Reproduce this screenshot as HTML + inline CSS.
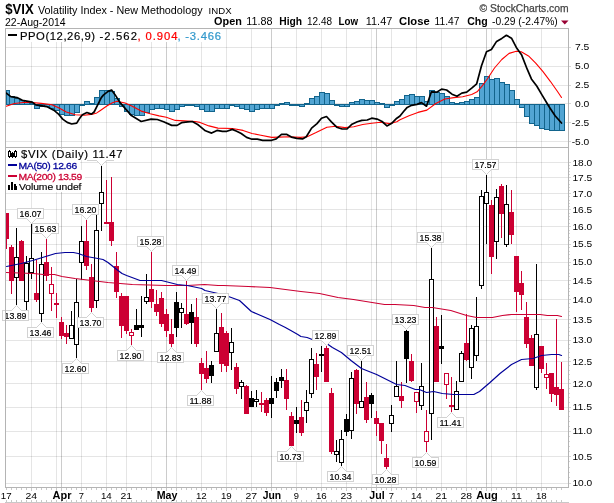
<!DOCTYPE html><html><head><meta charset="utf-8"><title>$VIX</title><style>html,body{margin:0;padding:0;background:#fff}svg{display:block}text{font-family:"Liberation Sans",sans-serif}.lb{stroke:#000;stroke-width:.2px}.lg{stroke:#000;stroke-width:.15px}.m{font-family:"Liberation Sans",sans-serif}</style></head><body>
<svg width="614" height="503" viewBox="0 0 614 503" style="will-change:transform">
<rect width="614" height="503" fill="#fff"/>
<g shape-rendering="crispEdges">
<rect x="31" y="28" width="1" height="459" fill="rgba(0,0,0,0.1)"/>
<rect x="56" y="28" width="1" height="459" fill="rgba(0,0,0,0.1)"/>
<rect x="81" y="28" width="1" height="459" fill="rgba(0,0,0,0.1)"/>
<rect x="106" y="28" width="1" height="459" fill="rgba(0,0,0,0.1)"/>
<rect x="126" y="28" width="1" height="459" fill="rgba(0,0,0,0.1)"/>
<rect x="151" y="28" width="1" height="459" fill="rgba(0,0,0,0.1)"/>
<rect x="176" y="28" width="1" height="459" fill="rgba(0,0,0,0.1)"/>
<rect x="201" y="28" width="1" height="459" fill="rgba(0,0,0,0.1)"/>
<rect x="226" y="28" width="1" height="459" fill="rgba(0,0,0,0.1)"/>
<rect x="251" y="28" width="1" height="459" fill="rgba(0,0,0,0.1)"/>
<rect x="296" y="28" width="1" height="459" fill="rgba(0,0,0,0.1)"/>
<rect x="321" y="28" width="1" height="459" fill="rgba(0,0,0,0.1)"/>
<rect x="346" y="28" width="1" height="459" fill="rgba(0,0,0,0.1)"/>
<rect x="371" y="28" width="1" height="459" fill="rgba(0,0,0,0.1)"/>
<rect x="391" y="28" width="1" height="459" fill="rgba(0,0,0,0.1)"/>
<rect x="416" y="28" width="1" height="459" fill="rgba(0,0,0,0.1)"/>
<rect x="441" y="28" width="1" height="459" fill="rgba(0,0,0,0.1)"/>
<rect x="466" y="28" width="1" height="459" fill="rgba(0,0,0,0.1)"/>
<rect x="491" y="28" width="1" height="459" fill="rgba(0,0,0,0.1)"/>
<rect x="516" y="28" width="1" height="459" fill="rgba(0,0,0,0.1)"/>
<rect x="541" y="28" width="1" height="459" fill="rgba(0,0,0,0.1)"/>
<rect x="61" y="28" width="1" height="459" fill="rgba(0,0,0,0.2)"/>
<rect x="166" y="28" width="1" height="459" fill="rgba(0,0,0,0.2)"/>
<rect x="271" y="28" width="1" height="459" fill="rgba(0,0,0,0.2)"/>
<rect x="376" y="28" width="1" height="459" fill="rgba(0,0,0,0.2)"/>
<rect x="486" y="28" width="1" height="459" fill="rgba(0,0,0,0.2)"/>
<rect x="5" y="47" width="564" height="1" fill="rgba(0,0,0,0.1)"/>
<rect x="5" y="66" width="564" height="1" fill="rgba(0,0,0,0.1)"/>
<rect x="5" y="85" width="564" height="1" fill="rgba(0,0,0,0.1)"/>
<rect x="5" y="103" width="564" height="1" fill="rgba(0,0,0,0.1)"/>
<rect x="5" y="122" width="564" height="1" fill="rgba(0,0,0,0.1)"/>
<rect x="5" y="141" width="564" height="1" fill="rgba(0,0,0,0.1)"/>
<rect x="5" y="162" width="564" height="1" fill="rgba(0,0,0,0.1)"/>
<rect x="5" y="177" width="564" height="1" fill="rgba(0,0,0,0.1)"/>
<rect x="5" y="193" width="564" height="1" fill="rgba(0,0,0,0.1)"/>
<rect x="5" y="209" width="564" height="1" fill="rgba(0,0,0,0.1)"/>
<rect x="5" y="226" width="564" height="1" fill="rgba(0,0,0,0.1)"/>
<rect x="5" y="244" width="564" height="1" fill="rgba(0,0,0,0.1)"/>
<rect x="5" y="262" width="564" height="1" fill="rgba(0,0,0,0.1)"/>
<rect x="5" y="280" width="564" height="1" fill="rgba(0,0,0,0.1)"/>
<rect x="5" y="299" width="564" height="1" fill="rgba(0,0,0,0.1)"/>
<rect x="5" y="319" width="564" height="1" fill="rgba(0,0,0,0.1)"/>
<rect x="5" y="340" width="564" height="1" fill="rgba(0,0,0,0.1)"/>
<rect x="5" y="361" width="564" height="1" fill="rgba(0,0,0,0.1)"/>
<rect x="5" y="383" width="564" height="1" fill="rgba(0,0,0,0.1)"/>
<rect x="5" y="407" width="564" height="1" fill="rgba(0,0,0,0.1)"/>
<rect x="5" y="431" width="564" height="1" fill="rgba(0,0,0,0.1)"/>
<rect x="5" y="456" width="564" height="1" fill="rgba(0,0,0,0.1)"/>
<rect x="5" y="483" width="564" height="1" fill="rgba(0,0,0,0.1)"/>
</g>
<g shape-rendering="crispEdges" fill="#52a5d3" stroke="#12648c" stroke-width="1">
<rect x="6.5" y="90.5" width="3" height="14"/>
<rect x="9.5" y="96.5" width="5" height="8"/>
<rect x="14.5" y="98.5" width="5" height="6"/>
<rect x="19.5" y="100.5" width="5" height="4"/>
<rect x="24.5" y="102.5" width="5" height="2"/>
<rect x="29.5" y="103.5" width="5" height="1"/>
<rect x="34.5" y="104.5" width="5" height="4"/>
<rect x="39.5" y="104.5" width="5" height="2"/>
<rect x="44.5" y="104.5" width="5" height="2"/>
<rect x="49.5" y="104.5" width="5" height="4"/>
<rect x="54.5" y="104.5" width="5" height="6"/>
<rect x="59.5" y="104.5" width="5" height="10"/>
<rect x="64.5" y="104.5" width="5" height="11"/>
<rect x="69.5" y="104.5" width="5" height="11"/>
<rect x="74.5" y="104.5" width="5" height="8"/>
<rect x="79.5" y="104.5" width="5" height="1"/>
<rect x="84.5" y="101.5" width="5" height="3"/>
<rect x="89.5" y="103.5" width="5" height="1"/>
<rect x="94.5" y="97.5" width="5" height="7"/>
<rect x="99.5" y="90.5" width="5" height="14"/>
<rect x="104.5" y="90.5" width="5" height="14"/>
<rect x="109.5" y="91.5" width="5" height="13"/>
<rect x="114.5" y="98.5" width="5" height="6"/>
<rect x="119.5" y="104.5" width="5" height="2"/>
<rect x="124.5" y="104.5" width="5" height="7"/>
<rect x="129.5" y="104.5" width="5" height="10"/>
<rect x="134.5" y="104.5" width="5" height="11"/>
<rect x="139.5" y="104.5" width="5" height="11"/>
<rect x="144.5" y="104.5" width="5" height="8"/>
<rect x="149.5" y="104.5" width="5" height="5"/>
<rect x="154.5" y="104.5" width="5" height="4"/>
<rect x="159.5" y="104.5" width="5" height="4"/>
<rect x="164.5" y="104.5" width="5" height="5"/>
<rect x="169.5" y="104.5" width="5" height="7"/>
<rect x="174.5" y="104.5" width="5" height="5"/>
<rect x="179.5" y="104.5" width="5" height="2"/>
<rect x="184.5" y="104.5" width="5" height="1"/>
<rect x="189.5" y="104.5" width="5" height="1"/>
<rect x="194.5" y="104.5" width="5" height="2"/>
<rect x="199.5" y="104.5" width="5" height="5"/>
<rect x="204.5" y="104.5" width="5" height="7"/>
<rect x="209.5" y="104.5" width="5" height="7"/>
<rect x="214.5" y="104.5" width="5" height="4"/>
<rect x="219.5" y="104.5" width="5" height="4"/>
<rect x="224.5" y="104.5" width="5" height="4"/>
<rect x="229.5" y="104.5" width="5" height="1"/>
<rect x="234.5" y="104.5" width="5" height="2"/>
<rect x="239.5" y="104.5" width="5" height="4"/>
<rect x="244.5" y="104.5" width="5" height="5"/>
<rect x="249.5" y="104.5" width="5" height="7"/>
<rect x="254.5" y="104.5" width="5" height="5"/>
<rect x="259.5" y="104.5" width="5" height="4"/>
<rect x="264.5" y="104.5" width="5" height="4"/>
<rect x="269.5" y="104.5" width="5" height="4"/>
<rect x="274.5" y="104.5" width="5" height="1"/>
<rect x="279.5" y="103.5" width="5" height="1"/>
<rect x="284.5" y="102.5" width="5" height="2"/>
<rect x="289.5" y="104.5" width="5" height="1"/>
<rect x="294.5" y="104.5" width="5" height="1"/>
<rect x="299.5" y="104.5" width="5" height="2"/>
<rect x="304.5" y="103.5" width="5" height="1"/>
<rect x="309.5" y="98.5" width="5" height="6"/>
<rect x="314.5" y="96.5" width="5" height="8"/>
<rect x="319.5" y="92.5" width="5" height="12"/>
<rect x="324.5" y="93.5" width="5" height="11"/>
<rect x="329.5" y="100.5" width="5" height="4"/>
<rect x="334.5" y="104.5" width="5" height="1"/>
<rect x="339.5" y="104.5" width="5" height="2"/>
<rect x="344.5" y="104.5" width="5" height="2"/>
<rect x="349.5" y="102.5" width="5" height="2"/>
<rect x="354.5" y="101.5" width="5" height="3"/>
<rect x="359.5" y="99.5" width="5" height="5"/>
<rect x="364.5" y="100.5" width="5" height="4"/>
<rect x="369.5" y="100.5" width="5" height="4"/>
<rect x="374.5" y="102.5" width="5" height="2"/>
<rect x="379.5" y="103.5" width="5" height="1"/>
<rect x="384.5" y="104.5" width="5" height="3"/>
<rect x="389.5" y="104.5" width="5" height="1"/>
<rect x="394.5" y="101.5" width="5" height="3"/>
<rect x="399.5" y="99.5" width="5" height="5"/>
<rect x="404.5" y="95.5" width="5" height="9"/>
<rect x="409.5" y="94.5" width="5" height="10"/>
<rect x="414.5" y="96.5" width="5" height="8"/>
<rect x="419.5" y="96.5" width="5" height="8"/>
<rect x="424.5" y="101.5" width="5" height="3"/>
<rect x="429.5" y="90.5" width="5" height="14"/>
<rect x="434.5" y="92.5" width="5" height="12"/>
<rect x="439.5" y="93.5" width="5" height="11"/>
<rect x="444.5" y="96.5" width="5" height="8"/>
<rect x="449.5" y="102.5" width="5" height="2"/>
<rect x="454.5" y="103.5" width="5" height="1"/>
<rect x="459.5" y="102.5" width="5" height="2"/>
<rect x="464.5" y="101.5" width="5" height="3"/>
<rect x="469.5" y="99.5" width="5" height="5"/>
<rect x="474.5" y="97.5" width="5" height="7"/>
<rect x="479.5" y="83.5" width="5" height="21"/>
<rect x="484.5" y="76.5" width="5" height="28"/>
<rect x="489.5" y="79.5" width="5" height="25"/>
<rect x="494.5" y="78.5" width="5" height="26"/>
<rect x="499.5" y="82.5" width="5" height="22"/>
<rect x="504.5" y="84.5" width="5" height="20"/>
<rect x="509.5" y="90.5" width="5" height="14"/>
<rect x="514.5" y="99.5" width="5" height="5"/>
<rect x="519.5" y="104.5" width="5" height="3"/>
<rect x="524.5" y="104.5" width="5" height="12"/>
<rect x="529.5" y="104.5" width="5" height="19"/>
<rect x="534.5" y="104.5" width="5" height="21"/>
<rect x="539.5" y="104.5" width="5" height="24"/>
<rect x="544.5" y="104.5" width="5" height="25"/>
<rect x="549.5" y="104.5" width="5" height="26"/>
<rect x="554.5" y="104.5" width="5" height="26"/>
<rect x="559.5" y="104.5" width="5" height="26"/>
</g>
<polyline points="6.3,106.2 14.3,103.5 23.3,102.5 32.3,102.5 41.2,103.4 52.0,104.8 59.1,108.0 66.3,112.0 75.3,114.7 84.2,115.2 93.2,114.1 96.8,112.9 100.0,110.7 107.2,105.7 112.5,102.7 117.0,101.2 125.1,103.0 132.3,106.2 141.2,111.1 150.2,113.8 159.1,115.9 166.3,117.3 175.3,120.4 184.2,120.9 195.0,121.5 200.0,122.4 209.0,125.9 217.9,128.1 232.3,128.5 243.0,130.4 252.0,133.5 260.9,135.3 271.7,137.4 278.9,137.1 289.6,136.7 300.4,137.4 307.2,136.7 316.1,132.6 326.9,127.2 335.8,126.3 344.8,127.6 353.8,126.7 362.7,124.5 371.7,123.3 380.6,122.2 389.6,123.6 396.8,121.8 400.0,119.8 409.0,115.7 417.9,112.4 426.9,110.1 435.8,103.5 444.8,99.0 453.8,97.6 462.7,96.8 471.7,94.5 477.1,91.8 482.4,85.6 487.3,79.0 494.5,68.0 501.8,59.5 509.1,53.4 516.3,51.3 521.2,51.7 528.5,55.9 535.7,63.1 543.0,71.6 550.3,81.3 557.5,91.5 561.5,97.5" fill="none" stroke="#ff0000" stroke-width="1.1" stroke-linejoin="round" stroke-linecap="round"/>
<polyline points="6.3,93.2 10.8,96.7 17.0,97.6 22.4,100.3 32.3,102.1 35.8,104.8 46.6,106.6 53.8,110.2 58.2,113.8 62.7,119.1 67.2,122.4 71.7,124.0 76.7,123.1 79.7,118.2 82.4,114.7 86.9,112.5 91.4,114.1 94.1,112.0 97.7,104.8 101.3,97.6 103.6,94.9 108.1,91.4 111.6,90.1 115.2,94.9 119.7,102.1 125.1,108.4 131.4,115.6 141.2,121.5 151.1,119.1 157.3,119.5 163.6,121.8 171.7,125.4 177.1,125.4 181.5,122.7 187.8,121.8 192.3,121.5 197.7,124.5 200.0,126.3 205.4,130.8 211.6,133.1 217.0,130.4 222.4,131.3 226.9,131.3 232.3,129.4 236.7,131.3 241.2,133.5 246.6,137.4 252.0,139.2 257.3,139.2 262.7,140.3 271.7,140.3 276.2,138.9 281.5,134.4 286.9,134.4 291.4,137.1 296.8,138.3 302.5,138.9 306.3,136.7 311.6,128.1 317.0,123.6 321.5,118.2 326.5,116.5 331.4,121.8 336.7,127.2 342.1,129.0 347.0,129.0 352.0,124.2 357.3,121.8 361.8,120.4 367.2,120.0 371.7,118.2 377.1,119.1 382.1,121.5 386.9,125.9 391.4,123.6 396.8,118.2 400.0,116.0 403.6,111.5 407.2,107.4 411.6,105.3 417.0,104.4 421.5,102.6 426.5,106.2 431.4,91.8 436.7,92.2 441.6,89.1 446.6,90.0 452.0,94.2 457.0,96.3 461.8,93.1 466.7,92.2 471.7,88.2 476.7,83.8 481.5,65.8 486.5,51.7 491.4,49.5 496.6,41.4 501.8,38.4 506.4,35.3 511.5,38.2 516.3,47.4 521.7,55.1 527.2,69.2 531.4,78.9 536.9,86.2 541.8,94.6 549.1,106.8 555.1,115.7 561.5,123.0" fill="none" stroke="#000000" stroke-width="1.7" stroke-linejoin="round" stroke-linecap="round"/>
<g shape-rendering="crispEdges">
<rect x="6" y="213" width="1" height="36" fill="#cc0033"/>
<rect x="6" y="213" width="3" height="26" fill="#cc0033"/>
<rect x="11" y="245" width="1" height="49" fill="#cc0033"/>
<rect x="9" y="247" width="5" height="34" fill="#cc0033"/>
<rect x="16" y="228" width="1" height="77" fill="#000000"/>
<rect x="14" y="257" width="5" height="21" fill="#000000"/>
<rect x="15" y="258" width="3" height="19" fill="#fff"/>
<rect x="21" y="240" width="1" height="41" fill="#cc0033"/>
<rect x="19" y="241" width="5" height="40" fill="#cc0033"/>
<rect x="26" y="256" width="1" height="54" fill="#000000"/>
<rect x="24" y="263" width="5" height="39" fill="#000000"/>
<rect x="25" y="264" width="3" height="37" fill="#fff"/>
<rect x="31" y="224" width="1" height="55" fill="#000000"/>
<rect x="29" y="258" width="5" height="15" fill="#000000"/>
<rect x="30" y="259" width="3" height="13" fill="#fff"/>
<rect x="36" y="260" width="1" height="42" fill="#cc0033"/>
<rect x="34" y="293" width="5" height="7" fill="#cc0033"/>
<rect x="41" y="252" width="1" height="70" fill="#000000"/>
<rect x="39" y="264" width="5" height="50" fill="#000000"/>
<rect x="40" y="265" width="3" height="48" fill="#fff"/>
<rect x="46" y="239" width="1" height="42" fill="#cc0033"/>
<rect x="44" y="262" width="5" height="14" fill="#cc0033"/>
<rect x="51" y="267" width="1" height="44" fill="#cc0033"/>
<rect x="49" y="284" width="5" height="10" fill="#cc0033"/>
<rect x="50" y="285" width="3" height="8" fill="#fff"/>
<rect x="56" y="293" width="1" height="25" fill="#cc0033"/>
<rect x="54" y="303" width="5" height="2" fill="#cc0033"/>
<rect x="61" y="317" width="1" height="22" fill="#cc0033"/>
<rect x="59" y="322" width="5" height="14" fill="#cc0033"/>
<rect x="66" y="325" width="1" height="19" fill="#cc0033"/>
<rect x="64" y="333" width="5" height="4" fill="#cc0033"/>
<rect x="71" y="311" width="1" height="28" fill="#000000"/>
<rect x="69" y="325" width="5" height="14" fill="#000000"/>
<rect x="70" y="326" width="3" height="12" fill="#fff"/>
<rect x="76" y="279" width="1" height="79" fill="#000000"/>
<rect x="74" y="302" width="5" height="43" fill="#000000"/>
<rect x="75" y="303" width="3" height="41" fill="#fff"/>
<rect x="81" y="226" width="1" height="54" fill="#000000"/>
<rect x="79" y="241" width="5" height="22" fill="#000000"/>
<rect x="80" y="242" width="3" height="20" fill="#fff"/>
<rect x="86" y="220" width="1" height="50" fill="#cc0033"/>
<rect x="84" y="241" width="5" height="25" fill="#cc0033"/>
<rect x="91" y="264" width="1" height="48" fill="#cc0033"/>
<rect x="89" y="277" width="5" height="31" fill="#cc0033"/>
<rect x="96" y="215" width="1" height="93" fill="#000000"/>
<rect x="94" y="230" width="5" height="71" fill="#000000"/>
<rect x="95" y="231" width="3" height="69" fill="#fff"/>
<rect x="101" y="166" width="1" height="65" fill="#000000"/>
<rect x="99" y="192" width="5" height="12" fill="#000000"/>
<rect x="100" y="193" width="3" height="10" fill="#fff"/>
<rect x="106" y="180" width="1" height="44" fill="#cc0033"/>
<rect x="104" y="222" width="5" height="2" fill="#cc0033"/>
<rect x="111" y="177" width="1" height="69" fill="#cc0033"/>
<rect x="109" y="222" width="5" height="19" fill="#cc0033"/>
<rect x="116" y="252" width="1" height="46" fill="#cc0033"/>
<rect x="114" y="266" width="5" height="26" fill="#cc0033"/>
<rect x="121" y="293" width="1" height="45" fill="#cc0033"/>
<rect x="119" y="296" width="5" height="30" fill="#cc0033"/>
<rect x="126" y="296" width="1" height="38" fill="#cc0033"/>
<rect x="124" y="296" width="5" height="35" fill="#cc0033"/>
<rect x="131" y="329" width="1" height="16" fill="#cc0033"/>
<rect x="129" y="332" width="5" height="4" fill="#cc0033"/>
<rect x="130" y="333" width="3" height="2" fill="#fff"/>
<rect x="136" y="309" width="1" height="21" fill="#000000"/>
<rect x="134" y="325" width="5" height="5" fill="#000000"/>
<rect x="141" y="296" width="1" height="41" fill="#000000"/>
<rect x="139" y="325" width="5" height="3" fill="#000000"/>
<rect x="146" y="274" width="1" height="30" fill="#000000"/>
<rect x="144" y="297" width="5" height="5" fill="#000000"/>
<rect x="145" y="298" width="3" height="3" fill="#fff"/>
<rect x="151" y="252" width="1" height="56" fill="#cc0033"/>
<rect x="149" y="289" width="5" height="13" fill="#cc0033"/>
<rect x="156" y="290" width="1" height="26" fill="#cc0033"/>
<rect x="154" y="304" width="5" height="8" fill="#cc0033"/>
<rect x="161" y="292" width="1" height="35" fill="#cc0033"/>
<rect x="159" y="298" width="5" height="26" fill="#cc0033"/>
<rect x="166" y="309" width="1" height="28" fill="#cc0033"/>
<rect x="164" y="314" width="5" height="17" fill="#cc0033"/>
<rect x="171" y="319" width="1" height="28" fill="#cc0033"/>
<rect x="169" y="334" width="5" height="10" fill="#cc0033"/>
<rect x="176" y="292" width="1" height="45" fill="#000000"/>
<rect x="174" y="302" width="5" height="26" fill="#000000"/>
<rect x="181" y="303" width="1" height="25" fill="#000000"/>
<rect x="179" y="308" width="5" height="5" fill="#000000"/>
<rect x="180" y="309" width="3" height="3" fill="#fff"/>
<rect x="186" y="281" width="1" height="44" fill="#cc0033"/>
<rect x="184" y="314" width="5" height="10" fill="#cc0033"/>
<rect x="191" y="304" width="1" height="40" fill="#000000"/>
<rect x="189" y="312" width="5" height="11" fill="#000000"/>
<rect x="196" y="298" width="1" height="49" fill="#cc0033"/>
<rect x="194" y="317" width="5" height="27" fill="#cc0033"/>
<rect x="201" y="358" width="1" height="32" fill="#cc0033"/>
<rect x="199" y="363" width="5" height="11" fill="#cc0033"/>
<rect x="206" y="351" width="1" height="32" fill="#cc0033"/>
<rect x="204" y="368" width="5" height="11" fill="#cc0033"/>
<rect x="211" y="361" width="1" height="22" fill="#000000"/>
<rect x="209" y="365" width="5" height="11" fill="#000000"/>
<rect x="216" y="309" width="1" height="43" fill="#000000"/>
<rect x="214" y="333" width="5" height="19" fill="#000000"/>
<rect x="215" y="334" width="3" height="17" fill="#fff"/>
<rect x="221" y="313" width="1" height="59" fill="#cc0033"/>
<rect x="219" y="327" width="5" height="37" fill="#cc0033"/>
<rect x="226" y="331" width="1" height="41" fill="#cc0033"/>
<rect x="224" y="333" width="5" height="33" fill="#cc0033"/>
<rect x="231" y="328" width="1" height="42" fill="#000000"/>
<rect x="229" y="342" width="5" height="11" fill="#000000"/>
<rect x="230" y="343" width="3" height="9" fill="#fff"/>
<rect x="236" y="363" width="1" height="31" fill="#cc0033"/>
<rect x="234" y="367" width="5" height="22" fill="#cc0033"/>
<rect x="241" y="380" width="1" height="19" fill="#000000"/>
<rect x="239" y="382" width="5" height="5" fill="#000000"/>
<rect x="240" y="383" width="3" height="3" fill="#fff"/>
<rect x="246" y="385" width="1" height="29" fill="#cc0033"/>
<rect x="244" y="386" width="5" height="28" fill="#cc0033"/>
<rect x="251" y="391" width="1" height="16" fill="#000000"/>
<rect x="249" y="398" width="5" height="9" fill="#000000"/>
<rect x="256" y="390" width="1" height="17" fill="#000000"/>
<rect x="254" y="399" width="5" height="3" fill="#000000"/>
<rect x="255" y="400" width="3" height="1" fill="#fff"/>
<rect x="261" y="392" width="1" height="20" fill="#cc0033"/>
<rect x="259" y="403" width="5" height="2" fill="#cc0033"/>
<rect x="266" y="398" width="1" height="18" fill="#cc0033"/>
<rect x="264" y="400" width="5" height="13" fill="#cc0033"/>
<rect x="271" y="376" width="1" height="42" fill="#000000"/>
<rect x="269" y="398" width="5" height="6" fill="#000000"/>
<rect x="276" y="378" width="1" height="20" fill="#000000"/>
<rect x="274" y="382" width="5" height="9" fill="#000000"/>
<rect x="281" y="369" width="1" height="19" fill="#000000"/>
<rect x="279" y="377" width="5" height="4" fill="#000000"/>
<rect x="286" y="369" width="1" height="41" fill="#cc0033"/>
<rect x="284" y="380" width="5" height="19" fill="#cc0033"/>
<rect x="291" y="412" width="1" height="34" fill="#cc0033"/>
<rect x="289" y="416" width="5" height="30" fill="#cc0033"/>
<rect x="296" y="407" width="1" height="26" fill="#000000"/>
<rect x="294" y="420" width="5" height="4" fill="#000000"/>
<rect x="301" y="400" width="1" height="36" fill="#cc0033"/>
<rect x="299" y="417" width="5" height="16" fill="#cc0033"/>
<rect x="306" y="390" width="1" height="33" fill="#000000"/>
<rect x="304" y="402" width="5" height="9" fill="#000000"/>
<rect x="305" y="403" width="3" height="7" fill="#fff"/>
<rect x="311" y="348" width="1" height="50" fill="#000000"/>
<rect x="309" y="359" width="5" height="35" fill="#000000"/>
<rect x="310" y="360" width="3" height="33" fill="#fff"/>
<rect x="316" y="353" width="1" height="37" fill="#cc0033"/>
<rect x="314" y="364" width="5" height="13" fill="#cc0033"/>
<rect x="321" y="346" width="1" height="26" fill="#000000"/>
<rect x="319" y="354" width="5" height="2" fill="#000000"/>
<rect x="326" y="346" width="1" height="36" fill="#cc0033"/>
<rect x="324" y="348" width="5" height="34" fill="#cc0033"/>
<rect x="331" y="388" width="1" height="66" fill="#cc0033"/>
<rect x="329" y="393" width="5" height="59" fill="#cc0033"/>
<rect x="336" y="440" width="1" height="22" fill="#000000"/>
<rect x="334" y="451" width="5" height="4" fill="#000000"/>
<rect x="335" y="452" width="3" height="2" fill="#fff"/>
<rect x="341" y="430" width="1" height="36" fill="#000000"/>
<rect x="339" y="439" width="5" height="24" fill="#000000"/>
<rect x="340" y="440" width="3" height="22" fill="#fff"/>
<rect x="346" y="414" width="1" height="22" fill="#000000"/>
<rect x="344" y="419" width="5" height="13" fill="#000000"/>
<rect x="351" y="372" width="1" height="67" fill="#000000"/>
<rect x="349" y="378" width="5" height="53" fill="#000000"/>
<rect x="350" y="379" width="3" height="51" fill="#fff"/>
<rect x="356" y="369" width="1" height="45" fill="#cc0033"/>
<rect x="354" y="370" width="5" height="34" fill="#cc0033"/>
<rect x="361" y="361" width="1" height="47" fill="#000000"/>
<rect x="359" y="401" width="5" height="7" fill="#000000"/>
<rect x="360" y="402" width="3" height="5" fill="#fff"/>
<rect x="366" y="382" width="1" height="41" fill="#cc0033"/>
<rect x="364" y="397" width="5" height="23" fill="#cc0033"/>
<rect x="371" y="393" width="1" height="25" fill="#000000"/>
<rect x="369" y="395" width="5" height="9" fill="#000000"/>
<rect x="376" y="411" width="1" height="25" fill="#cc0033"/>
<rect x="374" y="418" width="5" height="6" fill="#cc0033"/>
<rect x="381" y="423" width="1" height="31" fill="#cc0033"/>
<rect x="379" y="423" width="5" height="18" fill="#cc0033"/>
<rect x="386" y="444" width="1" height="25" fill="#cc0033"/>
<rect x="384" y="458" width="5" height="9" fill="#cc0033"/>
<rect x="391" y="405" width="1" height="27" fill="#000000"/>
<rect x="389" y="415" width="5" height="9" fill="#000000"/>
<rect x="390" y="416" width="3" height="7" fill="#fff"/>
<rect x="396" y="361" width="1" height="36" fill="#000000"/>
<rect x="394" y="386" width="5" height="11" fill="#000000"/>
<rect x="395" y="387" width="3" height="9" fill="#fff"/>
<rect x="401" y="382" width="1" height="26" fill="#cc0033"/>
<rect x="399" y="396" width="5" height="5" fill="#cc0033"/>
<rect x="406" y="330" width="1" height="53" fill="#000000"/>
<rect x="404" y="331" width="5" height="28" fill="#000000"/>
<rect x="411" y="354" width="1" height="28" fill="#cc0033"/>
<rect x="409" y="361" width="5" height="20" fill="#cc0033"/>
<rect x="416" y="392" width="1" height="21" fill="#cc0033"/>
<rect x="414" y="392" width="5" height="10" fill="#cc0033"/>
<rect x="415" y="393" width="3" height="8" fill="#fff"/>
<rect x="421" y="363" width="1" height="47" fill="#000000"/>
<rect x="419" y="386" width="5" height="20" fill="#000000"/>
<rect x="420" y="387" width="3" height="18" fill="#fff"/>
<rect x="426" y="410" width="1" height="42" fill="#cc0033"/>
<rect x="424" y="431" width="5" height="11" fill="#cc0033"/>
<rect x="425" y="432" width="3" height="9" fill="#fff"/>
<rect x="431" y="248" width="1" height="192" fill="#000000"/>
<rect x="429" y="279" width="5" height="135" fill="#000000"/>
<rect x="430" y="280" width="3" height="133" fill="#fff"/>
<rect x="436" y="317" width="1" height="65" fill="#cc0033"/>
<rect x="434" y="326" width="5" height="56" fill="#cc0033"/>
<rect x="441" y="315" width="1" height="49" fill="#000000"/>
<rect x="439" y="346" width="5" height="3" fill="#000000"/>
<rect x="446" y="373" width="1" height="26" fill="#cc0033"/>
<rect x="444" y="373" width="5" height="12" fill="#cc0033"/>
<rect x="445" y="374" width="3" height="10" fill="#fff"/>
<rect x="451" y="377" width="1" height="35" fill="#cc0033"/>
<rect x="449" y="405" width="5" height="2" fill="#cc0033"/>
<rect x="456" y="381" width="1" height="29" fill="#000000"/>
<rect x="454" y="391" width="5" height="19" fill="#000000"/>
<rect x="455" y="392" width="3" height="17" fill="#fff"/>
<rect x="461" y="351" width="1" height="31" fill="#000000"/>
<rect x="459" y="353" width="5" height="29" fill="#000000"/>
<rect x="460" y="354" width="3" height="27" fill="#fff"/>
<rect x="466" y="314" width="1" height="47" fill="#cc0033"/>
<rect x="464" y="343" width="5" height="17" fill="#cc0033"/>
<rect x="471" y="325" width="1" height="54" fill="#000000"/>
<rect x="469" y="328" width="5" height="40" fill="#000000"/>
<rect x="470" y="329" width="3" height="38" fill="#fff"/>
<rect x="476" y="297" width="1" height="64" fill="#000000"/>
<rect x="474" y="326" width="5" height="30" fill="#000000"/>
<rect x="475" y="327" width="3" height="28" fill="#fff"/>
<rect x="481" y="190" width="1" height="99" fill="#000000"/>
<rect x="479" y="196" width="5" height="90" fill="#000000"/>
<rect x="480" y="197" width="3" height="88" fill="#fff"/>
<rect x="486" y="175" width="1" height="69" fill="#000000"/>
<rect x="484" y="192" width="5" height="12" fill="#000000"/>
<rect x="485" y="193" width="3" height="10" fill="#fff"/>
<rect x="491" y="200" width="1" height="74" fill="#cc0033"/>
<rect x="489" y="205" width="5" height="52" fill="#cc0033"/>
<rect x="496" y="189" width="1" height="70" fill="#000000"/>
<rect x="494" y="197" width="5" height="45" fill="#000000"/>
<rect x="495" y="198" width="3" height="43" fill="#fff"/>
<rect x="501" y="184" width="1" height="54" fill="#cc0033"/>
<rect x="499" y="186" width="5" height="28" fill="#cc0033"/>
<rect x="506" y="185" width="1" height="62" fill="#000000"/>
<rect x="504" y="204" width="5" height="41" fill="#000000"/>
<rect x="505" y="205" width="3" height="39" fill="#fff"/>
<rect x="511" y="190" width="1" height="54" fill="#cc0033"/>
<rect x="509" y="212" width="5" height="23" fill="#cc0033"/>
<rect x="516" y="256" width="1" height="56" fill="#cc0033"/>
<rect x="514" y="256" width="5" height="36" fill="#cc0033"/>
<rect x="521" y="271" width="1" height="39" fill="#cc0033"/>
<rect x="519" y="283" width="5" height="12" fill="#cc0033"/>
<rect x="526" y="302" width="1" height="46" fill="#cc0033"/>
<rect x="524" y="317" width="5" height="27" fill="#cc0033"/>
<rect x="531" y="335" width="1" height="31" fill="#cc0033"/>
<rect x="529" y="338" width="5" height="28" fill="#cc0033"/>
<rect x="536" y="264" width="1" height="126" fill="#000000"/>
<rect x="534" y="334" width="5" height="54" fill="#000000"/>
<rect x="535" y="335" width="3" height="52" fill="#fff"/>
<rect x="541" y="346" width="1" height="27" fill="#cc0033"/>
<rect x="539" y="346" width="5" height="23" fill="#cc0033"/>
<rect x="546" y="363" width="1" height="26" fill="#cc0033"/>
<rect x="544" y="374" width="5" height="4" fill="#cc0033"/>
<rect x="545" y="375" width="3" height="2" fill="#fff"/>
<rect x="551" y="373" width="1" height="29" fill="#cc0033"/>
<rect x="549" y="373" width="5" height="21" fill="#cc0033"/>
<rect x="556" y="319" width="1" height="87" fill="#cc0033"/>
<rect x="554" y="387" width="5" height="8" fill="#cc0033"/>
<rect x="561" y="362" width="1" height="48" fill="#cc0033"/>
<rect x="559" y="389" width="5" height="21" fill="#cc0033"/>
</g>
<polyline points="6.0,272.5 33.3,273.5 43.4,274.5 54.5,274.5 62.0,276.5 75.0,278.5 108.0,282.5 132.3,284.5 165.8,285.5 187.3,285.5 204.5,284.5 218.0,285.5 223.6,285.5 248.3,286.5 270.0,287.5 285.4,289.5 300.9,291.5 319.5,293.5 338.0,297.5 353.5,299.5 372.1,302.5 384.5,304.5 395.0,304.5 413.7,305.5 425.0,307.5 432.3,307.5 450.8,310.5 466.6,315.5 476.6,317.5 492.4,317.5 502.4,315.5 511.5,314.5 540.2,314.5 547.3,315.5 557.4,315.5 561.5,316.5" fill="none" stroke="#cc0033" stroke-width="1.1" stroke-linejoin="round" stroke-linecap="round"/>
<polyline points="6.5,266.5 21.2,263.5 32.6,260.5 45.7,256.5 55.5,253.5 65.0,252.5 73.4,252.5 78.3,253.5 86.5,256.5 97.9,258.5 103.0,259.5 108.0,262.5 113.0,266.5 118.0,270.5 122.0,273.5 126.6,275.5 132.0,277.5 140.0,280.5 161.5,280.5 177.3,284.5 187.3,285.5 201.7,288.5 205.0,290.5 218.0,293.5 228.5,296.5 239.5,300.5 251.4,311.5 270.0,319.5 279.4,324.5 285.4,327.5 290.8,330.5 297.8,334.5 300.9,336.5 307.1,337.5 312.3,339.5 322.4,340.5 332.4,347.5 341.4,352.5 351.0,360.5 361.5,368.5 376.6,374.5 396.6,384.5 405.0,385.5 415.3,389.5 419.3,389.5 426.5,392.5 433.7,391.5 442.3,393.5 453.7,394.5 473.8,394.5 479.5,391.5 490.0,382.5 500.0,373.5 511.5,364.5 521.5,359.5 533.0,358.5 541.6,355.5 551.6,354.5 558.8,354.5 561.5,355.5" fill="none" stroke="#000099" stroke-width="1.2" stroke-linejoin="round" stroke-linecap="round"/>
<rect x="17.5" y="208.5" width="26" height="10" fill="#fff" stroke="#d2d2d2" stroke-width="1"/>
<path d="M26.5,218.5 L31.5,223.5 L36.5,218.5Z" fill="#fff" stroke="none"/>
<rect x="27" y="218" width="9" height="1" fill="#fff"/>
<path d="M26.5,218.5 L31.5,223.5 L36.5,218.5" fill="none" stroke="#d2d2d2" stroke-width="1"/>
<text x="30.5" y="217" font-size="9.6" text-anchor="middle" textLength="22" lengthAdjust="spacingAndGlyphs" fill="#000" class="lb">16.07</text>
<rect x="32.5" y="223.5" width="26" height="10" fill="#fff" stroke="#d2d2d2" stroke-width="1"/>
<path d="M41.5,233.5 L46.5,238.5 L51.5,233.5Z" fill="#fff" stroke="none"/>
<rect x="42" y="233" width="9" height="1" fill="#fff"/>
<path d="M41.5,233.5 L46.5,238.5 L51.5,233.5" fill="none" stroke="#d2d2d2" stroke-width="1"/>
<text x="45.5" y="232" font-size="9.6" text-anchor="middle" textLength="22" lengthAdjust="spacingAndGlyphs" fill="#000" class="lb">15.63</text>
<rect x="2.5" y="310.5" width="26" height="10" fill="#fff" stroke="#d2d2d2" stroke-width="1"/>
<path d="M11.5,310.5 L16.5,305.5 L21.5,310.5Z" fill="#fff" stroke="none"/>
<rect x="12" y="310" width="9" height="1" fill="#fff"/>
<path d="M11.5,310.5 L16.5,305.5 L21.5,310.5" fill="none" stroke="#d2d2d2" stroke-width="1"/>
<text x="15.5" y="319" font-size="9.6" text-anchor="middle" textLength="22" lengthAdjust="spacingAndGlyphs" fill="#000" class="lb">13.89</text>
<rect x="27.5" y="327.5" width="26" height="10" fill="#fff" stroke="#d2d2d2" stroke-width="1"/>
<path d="M36.5,327.5 L41.5,322.5 L46.5,327.5Z" fill="#fff" stroke="none"/>
<rect x="37" y="327" width="9" height="1" fill="#fff"/>
<path d="M36.5,327.5 L41.5,322.5 L46.5,327.5" fill="none" stroke="#d2d2d2" stroke-width="1"/>
<text x="40.5" y="336" font-size="9.6" text-anchor="middle" textLength="22" lengthAdjust="spacingAndGlyphs" fill="#000" class="lb">13.46</text>
<rect x="62.5" y="363.5" width="26" height="10" fill="#fff" stroke="#d2d2d2" stroke-width="1"/>
<path d="M71.5,363.5 L76.5,358.5 L81.5,363.5Z" fill="#fff" stroke="none"/>
<rect x="72" y="363" width="9" height="1" fill="#fff"/>
<path d="M71.5,363.5 L76.5,358.5 L81.5,363.5" fill="none" stroke="#d2d2d2" stroke-width="1"/>
<text x="75.5" y="372" font-size="9.6" text-anchor="middle" textLength="22" lengthAdjust="spacingAndGlyphs" fill="#000" class="lb">12.60</text>
<rect x="72.5" y="204.5" width="26" height="10" fill="#fff" stroke="#d2d2d2" stroke-width="1"/>
<path d="M81.5,214.5 L86.5,219.5 L91.5,214.5Z" fill="#fff" stroke="none"/>
<rect x="82" y="214" width="9" height="1" fill="#fff"/>
<path d="M81.5,214.5 L86.5,219.5 L91.5,214.5" fill="none" stroke="#d2d2d2" stroke-width="1"/>
<text x="85.5" y="213" font-size="9.6" text-anchor="middle" textLength="22" lengthAdjust="spacingAndGlyphs" fill="#000" class="lb">16.20</text>
<rect x="77.5" y="317.5" width="26" height="10" fill="#fff" stroke="#d2d2d2" stroke-width="1"/>
<path d="M86.5,317.5 L91.5,312.5 L96.5,317.5Z" fill="#fff" stroke="none"/>
<rect x="87" y="317" width="9" height="1" fill="#fff"/>
<path d="M86.5,317.5 L91.5,312.5 L96.5,317.5" fill="none" stroke="#d2d2d2" stroke-width="1"/>
<text x="90.5" y="326" font-size="9.6" text-anchor="middle" textLength="22" lengthAdjust="spacingAndGlyphs" fill="#000" class="lb">13.70</text>
<rect x="87.5" y="150.5" width="26" height="10" fill="#fff" stroke="#d2d2d2" stroke-width="1"/>
<path d="M96.5,160.5 L101.5,165.5 L106.5,160.5Z" fill="#fff" stroke="none"/>
<rect x="97" y="160" width="9" height="1" fill="#fff"/>
<path d="M96.5,160.5 L101.5,165.5 L106.5,160.5" fill="none" stroke="#d2d2d2" stroke-width="1"/>
<text x="100.5" y="159" font-size="9.6" text-anchor="middle" textLength="22" lengthAdjust="spacingAndGlyphs" fill="#000" class="lb">17.85</text>
<rect x="117.5" y="350.5" width="26" height="10" fill="#fff" stroke="#d2d2d2" stroke-width="1"/>
<path d="M126.5,350.5 L131.5,345.5 L136.5,350.5Z" fill="#fff" stroke="none"/>
<rect x="127" y="350" width="9" height="1" fill="#fff"/>
<path d="M126.5,350.5 L131.5,345.5 L136.5,350.5" fill="none" stroke="#d2d2d2" stroke-width="1"/>
<text x="130.5" y="359" font-size="9.6" text-anchor="middle" textLength="22" lengthAdjust="spacingAndGlyphs" fill="#000" class="lb">12.90</text>
<rect x="137.5" y="236.5" width="26" height="10" fill="#fff" stroke="#d2d2d2" stroke-width="1"/>
<path d="M146.5,246.5 L151.5,251.5 L156.5,246.5Z" fill="#fff" stroke="none"/>
<rect x="147" y="246" width="9" height="1" fill="#fff"/>
<path d="M146.5,246.5 L151.5,251.5 L156.5,246.5" fill="none" stroke="#d2d2d2" stroke-width="1"/>
<text x="150.5" y="245" font-size="9.6" text-anchor="middle" textLength="22" lengthAdjust="spacingAndGlyphs" fill="#000" class="lb">15.28</text>
<rect x="157.5" y="352.5" width="26" height="10" fill="#fff" stroke="#d2d2d2" stroke-width="1"/>
<path d="M166.5,352.5 L171.5,347.5 L176.5,352.5Z" fill="#fff" stroke="none"/>
<rect x="167" y="352" width="9" height="1" fill="#fff"/>
<path d="M166.5,352.5 L171.5,347.5 L176.5,352.5" fill="none" stroke="#d2d2d2" stroke-width="1"/>
<text x="170.5" y="361" font-size="9.6" text-anchor="middle" textLength="22" lengthAdjust="spacingAndGlyphs" fill="#000" class="lb">12.83</text>
<rect x="172.5" y="265.5" width="26" height="10" fill="#fff" stroke="#d2d2d2" stroke-width="1"/>
<path d="M181.5,275.5 L186.5,280.5 L191.5,275.5Z" fill="#fff" stroke="none"/>
<rect x="182" y="275" width="9" height="1" fill="#fff"/>
<path d="M181.5,275.5 L186.5,280.5 L191.5,275.5" fill="none" stroke="#d2d2d2" stroke-width="1"/>
<text x="185.5" y="274" font-size="9.6" text-anchor="middle" textLength="22" lengthAdjust="spacingAndGlyphs" fill="#000" class="lb">14.49</text>
<rect x="202.5" y="293.5" width="26" height="10" fill="#fff" stroke="#d2d2d2" stroke-width="1"/>
<path d="M211.5,303.5 L216.5,308.5 L221.5,303.5Z" fill="#fff" stroke="none"/>
<rect x="212" y="303" width="9" height="1" fill="#fff"/>
<path d="M211.5,303.5 L216.5,308.5 L221.5,303.5" fill="none" stroke="#d2d2d2" stroke-width="1"/>
<text x="215.5" y="302" font-size="9.6" text-anchor="middle" textLength="22" lengthAdjust="spacingAndGlyphs" fill="#000" class="lb">13.77</text>
<rect x="187.5" y="395.5" width="26" height="10" fill="#fff" stroke="#d2d2d2" stroke-width="1"/>
<path d="M196.5,395.5 L201.5,390.5 L206.5,395.5Z" fill="#fff" stroke="none"/>
<rect x="197" y="395" width="9" height="1" fill="#fff"/>
<path d="M196.5,395.5 L201.5,390.5 L206.5,395.5" fill="none" stroke="#d2d2d2" stroke-width="1"/>
<text x="200.5" y="404" font-size="9.6" text-anchor="middle" textLength="22" lengthAdjust="spacingAndGlyphs" fill="#000" class="lb">11.88</text>
<rect x="277.5" y="451.5" width="26" height="10" fill="#fff" stroke="#d2d2d2" stroke-width="1"/>
<path d="M286.5,451.5 L291.5,446.5 L296.5,451.5Z" fill="#fff" stroke="none"/>
<rect x="287" y="451" width="9" height="1" fill="#fff"/>
<path d="M286.5,451.5 L291.5,446.5 L296.5,451.5" fill="none" stroke="#d2d2d2" stroke-width="1"/>
<text x="290.5" y="460" font-size="9.6" text-anchor="middle" textLength="22" lengthAdjust="spacingAndGlyphs" fill="#000" class="lb">10.73</text>
<rect x="312.5" y="330.5" width="26" height="10" fill="#fff" stroke="#d2d2d2" stroke-width="1"/>
<path d="M321.5,340.5 L326.5,345.5 L331.5,340.5Z" fill="#fff" stroke="none"/>
<rect x="322" y="340" width="9" height="1" fill="#fff"/>
<path d="M321.5,340.5 L326.5,345.5 L331.5,340.5" fill="none" stroke="#d2d2d2" stroke-width="1"/>
<text x="325.5" y="339" font-size="9.6" text-anchor="middle" textLength="22" lengthAdjust="spacingAndGlyphs" fill="#000" class="lb">12.89</text>
<rect x="327.5" y="471.5" width="26" height="10" fill="#fff" stroke="#d2d2d2" stroke-width="1"/>
<path d="M336.5,471.5 L341.5,466.5 L346.5,471.5Z" fill="#fff" stroke="none"/>
<rect x="337" y="471" width="9" height="1" fill="#fff"/>
<path d="M336.5,471.5 L341.5,466.5 L346.5,471.5" fill="none" stroke="#d2d2d2" stroke-width="1"/>
<text x="340.5" y="480" font-size="9.6" text-anchor="middle" textLength="22" lengthAdjust="spacingAndGlyphs" fill="#000" class="lb">10.34</text>
<rect x="347.5" y="345.5" width="26" height="10" fill="#fff" stroke="#d2d2d2" stroke-width="1"/>
<path d="M356.5,355.5 L361.5,360.5 L366.5,355.5Z" fill="#fff" stroke="none"/>
<rect x="357" y="355" width="9" height="1" fill="#fff"/>
<path d="M356.5,355.5 L361.5,360.5 L366.5,355.5" fill="none" stroke="#d2d2d2" stroke-width="1"/>
<text x="360.5" y="354" font-size="9.6" text-anchor="middle" textLength="22" lengthAdjust="spacingAndGlyphs" fill="#000" class="lb">12.51</text>
<rect x="372.5" y="474.5" width="26" height="10" fill="#fff" stroke="#d2d2d2" stroke-width="1"/>
<path d="M381.5,474.5 L386.5,469.5 L391.5,474.5Z" fill="#fff" stroke="none"/>
<rect x="382" y="474" width="9" height="1" fill="#fff"/>
<path d="M381.5,474.5 L386.5,469.5 L391.5,474.5" fill="none" stroke="#d2d2d2" stroke-width="1"/>
<text x="385.5" y="483" font-size="9.6" text-anchor="middle" textLength="22" lengthAdjust="spacingAndGlyphs" fill="#000" class="lb">10.28</text>
<rect x="392.5" y="314.5" width="26" height="10" fill="#fff" stroke="#d2d2d2" stroke-width="1"/>
<path d="M401.5,324.5 L406.5,329.5 L411.5,324.5Z" fill="#fff" stroke="none"/>
<rect x="402" y="324" width="9" height="1" fill="#fff"/>
<path d="M401.5,324.5 L406.5,329.5 L411.5,324.5" fill="none" stroke="#d2d2d2" stroke-width="1"/>
<text x="405.5" y="323" font-size="9.6" text-anchor="middle" textLength="22" lengthAdjust="spacingAndGlyphs" fill="#000" class="lb">13.23</text>
<rect x="412.5" y="457.5" width="26" height="10" fill="#fff" stroke="#d2d2d2" stroke-width="1"/>
<path d="M421.5,457.5 L426.5,452.5 L431.5,457.5Z" fill="#fff" stroke="none"/>
<rect x="422" y="457" width="9" height="1" fill="#fff"/>
<path d="M421.5,457.5 L426.5,452.5 L431.5,457.5" fill="none" stroke="#d2d2d2" stroke-width="1"/>
<text x="425.5" y="466" font-size="9.6" text-anchor="middle" textLength="22" lengthAdjust="spacingAndGlyphs" fill="#000" class="lb">10.59</text>
<rect x="417.5" y="232.5" width="26" height="10" fill="#fff" stroke="#d2d2d2" stroke-width="1"/>
<path d="M426.5,242.5 L431.5,247.5 L436.5,242.5Z" fill="#fff" stroke="none"/>
<rect x="427" y="242" width="9" height="1" fill="#fff"/>
<path d="M426.5,242.5 L431.5,247.5 L436.5,242.5" fill="none" stroke="#d2d2d2" stroke-width="1"/>
<text x="430.5" y="241" font-size="9.6" text-anchor="middle" textLength="22" lengthAdjust="spacingAndGlyphs" fill="#000" class="lb">15.38</text>
<rect x="437.5" y="417.5" width="26" height="10" fill="#fff" stroke="#d2d2d2" stroke-width="1"/>
<path d="M446.5,417.5 L451.5,412.5 L456.5,417.5Z" fill="#fff" stroke="none"/>
<rect x="447" y="417" width="9" height="1" fill="#fff"/>
<path d="M446.5,417.5 L451.5,412.5 L456.5,417.5" fill="none" stroke="#d2d2d2" stroke-width="1"/>
<text x="450.5" y="426" font-size="9.6" text-anchor="middle" textLength="22" lengthAdjust="spacingAndGlyphs" fill="#000" class="lb">11.41</text>
<rect x="472.5" y="159.5" width="26" height="10" fill="#fff" stroke="#d2d2d2" stroke-width="1"/>
<path d="M481.5,169.5 L486.5,174.5 L491.5,169.5Z" fill="#fff" stroke="none"/>
<rect x="482" y="169" width="9" height="1" fill="#fff"/>
<path d="M481.5,169.5 L486.5,174.5 L491.5,169.5" fill="none" stroke="#d2d2d2" stroke-width="1"/>
<text x="485.5" y="168" font-size="9.6" text-anchor="middle" textLength="22" lengthAdjust="spacingAndGlyphs" fill="#000" class="lb">17.57</text>
<rect x="6" y="149" width="120" height="11" fill="#fff"/>
<rect x="6" y="160" width="74" height="10" fill="#fff"/>
<rect x="6" y="170" width="79" height="11" fill="#fff"/>
<rect x="6" y="181" width="78" height="11" fill="#fff"/>
<g shape-rendering="crispEdges" fill="#000"><rect x="9" y="150" width="1" height="8"/><rect x="8" y="151" width="3" height="6"/><rect x="9" y="152" width="1" height="4" fill="#fff"/><rect x="11" y="153" width="3" height="4"/><rect x="12" y="152" width="1" height="6"/><rect x="15" y="150" width="1" height="8"/><rect x="14" y="151" width="3" height="6"/><rect x="15" y="152" width="1" height="4" fill="#fff"/></g>
<text transform="translate(21.0,158.2) scale(1.13,1)" font-size="10" textLength="89.8" lengthAdjust="spacing" class="lg">$VIX (Daily) 11.47</text>
<rect x="8" y="164" width="9" height="2" fill="#000099" shape-rendering="crispEdges"/>
<text transform="translate(18.6,168.8) scale(1.13,1)" font-size="9.2" fill="#000099" stroke="#000099" stroke-width=".25" textLength="51.9" lengthAdjust="spacing">MA(50) 12.66</text>
<rect x="8" y="175" width="9" height="2" fill="#cc0033" shape-rendering="crispEdges"/>
<text transform="translate(18.6,180.0) scale(1.13,1)" font-size="9.2" fill="#cc0033" stroke="#cc0033" stroke-width=".25" textLength="56.3" lengthAdjust="spacing">MA(200) 13.59</text>
<g shape-rendering="crispEdges" fill="#000"><rect x="8" y="185" width="2" height="5"/><rect x="11" y="182" width="2" height="8"/><rect x="14" y="184" width="2" height="6"/><rect x="16" y="186" width="1" height="4"/></g>
<text transform="translate(19.0,189.6) scale(1.13,1)" font-size="9.2" textLength="55.3" lengthAdjust="spacing" class="lg">Volume undef</text>
<rect x="6" y="29" width="220" height="13" fill="#fff"/>
<rect x="8" y="34" width="9" height="2" fill="#000" shape-rendering="crispEdges"/>
<text transform="translate(20.0,39.5) scale(1.13,1)" font-size="10" textLength="66.4" lengthAdjust="spacing" class="lg">PPO(12,26,9)</text>
<text transform="translate(99.5,39.5) scale(1.13,1)" font-size="10" textLength="33.2" lengthAdjust="spacing" class="lg">-2.562</text>
<text transform="translate(137.5,39.5) scale(1.13,1)" font-size="10" fill="#ff0000" stroke="#ff0000" stroke-width=".2" textLength="35.4" lengthAdjust="spacing">, 0.904</text>
<text transform="translate(177.5,39.5) scale(1.13,1)" font-size="10" fill="#3399cc" stroke="#3399cc" stroke-width=".2" textLength="38.5" lengthAdjust="spacing">, -3.466</text>
<g shape-rendering="crispEdges" fill="none">
<rect x="5.5" y="28.5" width="563" height="119" stroke="#b4b4b4"/>
<rect x="5.5" y="147.5" width="563" height="340" stroke="#b4b4b4"/>
</g>
<g shape-rendering="crispEdges" fill="#d6d6d6">
<rect x="569" y="47" width="2" height="1"/>
<rect x="569" y="66" width="2" height="1"/>
<rect x="569" y="85" width="2" height="1"/>
<rect x="569" y="103" width="2" height="1"/>
<rect x="569" y="122" width="2" height="1"/>
<rect x="569" y="141" width="2" height="1"/>
<rect x="569" y="162" width="2" height="1"/>
<rect x="569" y="177" width="2" height="1"/>
<rect x="569" y="193" width="2" height="1"/>
<rect x="569" y="209" width="2" height="1"/>
<rect x="569" y="226" width="2" height="1"/>
<rect x="569" y="244" width="2" height="1"/>
<rect x="569" y="262" width="2" height="1"/>
<rect x="569" y="280" width="2" height="1"/>
<rect x="569" y="299" width="2" height="1"/>
<rect x="569" y="319" width="2" height="1"/>
<rect x="569" y="340" width="2" height="1"/>
<rect x="569" y="361" width="2" height="1"/>
<rect x="569" y="383" width="2" height="1"/>
<rect x="569" y="407" width="2" height="1"/>
<rect x="569" y="431" width="2" height="1"/>
<rect x="569" y="456" width="2" height="1"/>
<rect x="569" y="483" width="2" height="1"/>
<rect x="569" y="483" width="1" height="1"/>
<rect x="569" y="477" width="1" height="1"/>
<rect x="569" y="472" width="1" height="1"/>
<rect x="569" y="467" width="1" height="1"/>
<rect x="569" y="461" width="1" height="1"/>
<rect x="569" y="456" width="1" height="1"/>
<rect x="569" y="451" width="1" height="1"/>
<rect x="569" y="446" width="1" height="1"/>
<rect x="569" y="441" width="1" height="1"/>
<rect x="569" y="436" width="1" height="1"/>
<rect x="569" y="431" width="1" height="1"/>
<rect x="569" y="426" width="1" height="1"/>
<rect x="569" y="421" width="1" height="1"/>
<rect x="569" y="416" width="1" height="1"/>
<rect x="569" y="411" width="1" height="1"/>
<rect x="569" y="407" width="1" height="1"/>
<rect x="569" y="402" width="1" height="1"/>
<rect x="569" y="397" width="1" height="1"/>
<rect x="569" y="393" width="1" height="1"/>
<rect x="569" y="388" width="1" height="1"/>
<rect x="569" y="383" width="1" height="1"/>
<rect x="569" y="379" width="1" height="1"/>
<rect x="569" y="374" width="1" height="1"/>
<rect x="569" y="370" width="1" height="1"/>
<rect x="569" y="365" width="1" height="1"/>
<rect x="569" y="361" width="1" height="1"/>
<rect x="569" y="357" width="1" height="1"/>
<rect x="569" y="352" width="1" height="1"/>
<rect x="569" y="348" width="1" height="1"/>
<rect x="569" y="344" width="1" height="1"/>
<rect x="569" y="340" width="1" height="1"/>
<rect x="569" y="335" width="1" height="1"/>
<rect x="569" y="331" width="1" height="1"/>
<rect x="569" y="327" width="1" height="1"/>
<rect x="569" y="323" width="1" height="1"/>
<rect x="569" y="319" width="1" height="1"/>
<rect x="569" y="315" width="1" height="1"/>
<rect x="569" y="311" width="1" height="1"/>
<rect x="569" y="307" width="1" height="1"/>
<rect x="569" y="303" width="1" height="1"/>
<rect x="569" y="299" width="1" height="1"/>
<rect x="569" y="295" width="1" height="1"/>
<rect x="569" y="291" width="1" height="1"/>
<rect x="569" y="288" width="1" height="1"/>
<rect x="569" y="284" width="1" height="1"/>
<rect x="569" y="280" width="1" height="1"/>
<rect x="569" y="276" width="1" height="1"/>
<rect x="569" y="273" width="1" height="1"/>
<rect x="569" y="269" width="1" height="1"/>
<rect x="569" y="265" width="1" height="1"/>
<rect x="569" y="262" width="1" height="1"/>
<rect x="569" y="258" width="1" height="1"/>
<rect x="569" y="254" width="1" height="1"/>
<rect x="569" y="251" width="1" height="1"/>
<rect x="569" y="247" width="1" height="1"/>
<rect x="569" y="244" width="1" height="1"/>
<rect x="569" y="240" width="1" height="1"/>
<rect x="569" y="237" width="1" height="1"/>
<rect x="569" y="233" width="1" height="1"/>
<rect x="569" y="230" width="1" height="1"/>
<rect x="569" y="226" width="1" height="1"/>
<rect x="569" y="223" width="1" height="1"/>
<rect x="569" y="219" width="1" height="1"/>
<rect x="569" y="216" width="1" height="1"/>
<rect x="569" y="213" width="1" height="1"/>
<rect x="569" y="209" width="1" height="1"/>
<rect x="569" y="206" width="1" height="1"/>
<rect x="569" y="203" width="1" height="1"/>
<rect x="569" y="200" width="1" height="1"/>
<rect x="569" y="196" width="1" height="1"/>
<rect x="569" y="193" width="1" height="1"/>
<rect x="569" y="190" width="1" height="1"/>
<rect x="569" y="187" width="1" height="1"/>
<rect x="569" y="184" width="1" height="1"/>
<rect x="569" y="180" width="1" height="1"/>
<rect x="569" y="177" width="1" height="1"/>
<rect x="569" y="174" width="1" height="1"/>
<rect x="569" y="171" width="1" height="1"/>
<rect x="569" y="168" width="1" height="1"/>
<rect x="569" y="165" width="1" height="1"/>
<rect x="569" y="162" width="1" height="1"/>
</g>
<text x="589.3" y="50.3" font-size="9.8" text-anchor="end" textLength="14.4" lengthAdjust="spacingAndGlyphs" class="ax">7.5</text>
<text x="589.3" y="69.2" font-size="9.8" text-anchor="end" textLength="14.4" lengthAdjust="spacingAndGlyphs" class="ax">5.0</text>
<text x="589.3" y="88.0" font-size="9.8" text-anchor="end" textLength="14.4" lengthAdjust="spacingAndGlyphs" class="ax">2.5</text>
<text x="589.3" y="106.9" font-size="9.8" text-anchor="end" textLength="14.4" lengthAdjust="spacingAndGlyphs" class="ax">0.0</text>
<text x="589.3" y="125.8" font-size="9.8" text-anchor="end" textLength="17.6" lengthAdjust="spacingAndGlyphs" class="ax">-2.5</text>
<text x="589.3" y="144.7" font-size="9.8" text-anchor="end" textLength="17.6" lengthAdjust="spacingAndGlyphs" class="ax">-5.0</text>
<text x="572.4" y="165.5" font-size="9.8" textLength="19.8" lengthAdjust="spacingAndGlyphs" class="ax">18.0</text>
<text x="572.4" y="180.8" font-size="9.8" textLength="19.8" lengthAdjust="spacingAndGlyphs" class="ax">17.5</text>
<text x="572.4" y="196.7" font-size="9.8" textLength="19.8" lengthAdjust="spacingAndGlyphs" class="ax">17.0</text>
<text x="572.4" y="213.0" font-size="9.8" textLength="19.8" lengthAdjust="spacingAndGlyphs" class="ax">16.5</text>
<text x="572.4" y="229.8" font-size="9.8" textLength="19.8" lengthAdjust="spacingAndGlyphs" class="ax">16.0</text>
<text x="572.4" y="247.1" font-size="9.8" textLength="19.8" lengthAdjust="spacingAndGlyphs" class="ax">15.5</text>
<text x="572.4" y="265.0" font-size="9.8" textLength="19.8" lengthAdjust="spacingAndGlyphs" class="ax">15.0</text>
<text x="572.4" y="283.5" font-size="9.8" textLength="19.8" lengthAdjust="spacingAndGlyphs" class="ax">14.5</text>
<text x="572.4" y="302.7" font-size="9.8" textLength="19.8" lengthAdjust="spacingAndGlyphs" class="ax">14.0</text>
<text x="572.4" y="322.5" font-size="9.8" textLength="19.8" lengthAdjust="spacingAndGlyphs" class="ax">13.5</text>
<text x="572.4" y="343.1" font-size="9.8" textLength="19.8" lengthAdjust="spacingAndGlyphs" class="ax">13.0</text>
<text x="572.4" y="364.6" font-size="9.8" textLength="19.8" lengthAdjust="spacingAndGlyphs" class="ax">12.5</text>
<text x="572.4" y="386.9" font-size="9.8" textLength="19.8" lengthAdjust="spacingAndGlyphs" class="ax">12.0</text>
<text x="572.4" y="410.1" font-size="9.8" textLength="19.8" lengthAdjust="spacingAndGlyphs" class="ax">11.5</text>
<text x="572.4" y="434.4" font-size="9.8" textLength="19.8" lengthAdjust="spacingAndGlyphs" class="ax">11.0</text>
<text x="572.4" y="459.8" font-size="9.8" textLength="19.8" lengthAdjust="spacingAndGlyphs" class="ax">10.5</text>
<text x="572.4" y="486.4" font-size="9.8" textLength="19.8" lengthAdjust="spacingAndGlyphs" class="ax">10.0</text>
<g shape-rendering="crispEdges" fill="#c8c8c8">
<rect x="6" y="488" width="1" height="2"/>
<rect x="6" y="500" width="1" height="2"/>
<rect x="11" y="488" width="1" height="2"/>
<rect x="11" y="500" width="1" height="2"/>
<rect x="16" y="488" width="1" height="2"/>
<rect x="16" y="500" width="1" height="2"/>
<rect x="21" y="488" width="1" height="2"/>
<rect x="21" y="500" width="1" height="2"/>
<rect x="26" y="488" width="1" height="2"/>
<rect x="26" y="500" width="1" height="2"/>
<rect x="31" y="488" width="1" height="2"/>
<rect x="31" y="500" width="1" height="2"/>
<rect x="36" y="488" width="1" height="2"/>
<rect x="36" y="500" width="1" height="2"/>
<rect x="41" y="488" width="1" height="2"/>
<rect x="41" y="500" width="1" height="2"/>
<rect x="46" y="488" width="1" height="2"/>
<rect x="46" y="500" width="1" height="2"/>
<rect x="51" y="488" width="1" height="2"/>
<rect x="51" y="500" width="1" height="2"/>
<rect x="56" y="488" width="1" height="2"/>
<rect x="56" y="500" width="1" height="2"/>
<rect x="61" y="488" width="1" height="2"/>
<rect x="61" y="500" width="1" height="2"/>
<rect x="66" y="488" width="1" height="2"/>
<rect x="66" y="500" width="1" height="2"/>
<rect x="71" y="488" width="1" height="2"/>
<rect x="71" y="500" width="1" height="2"/>
<rect x="76" y="488" width="1" height="2"/>
<rect x="76" y="500" width="1" height="2"/>
<rect x="81" y="488" width="1" height="2"/>
<rect x="81" y="500" width="1" height="2"/>
<rect x="86" y="488" width="1" height="2"/>
<rect x="86" y="500" width="1" height="2"/>
<rect x="91" y="488" width="1" height="2"/>
<rect x="91" y="500" width="1" height="2"/>
<rect x="96" y="488" width="1" height="2"/>
<rect x="96" y="500" width="1" height="2"/>
<rect x="101" y="488" width="1" height="2"/>
<rect x="101" y="500" width="1" height="2"/>
<rect x="106" y="488" width="1" height="2"/>
<rect x="106" y="500" width="1" height="2"/>
<rect x="111" y="488" width="1" height="2"/>
<rect x="111" y="500" width="1" height="2"/>
<rect x="116" y="488" width="1" height="2"/>
<rect x="116" y="500" width="1" height="2"/>
<rect x="121" y="488" width="1" height="2"/>
<rect x="121" y="500" width="1" height="2"/>
<rect x="126" y="488" width="1" height="2"/>
<rect x="126" y="500" width="1" height="2"/>
<rect x="131" y="488" width="1" height="2"/>
<rect x="131" y="500" width="1" height="2"/>
<rect x="136" y="488" width="1" height="2"/>
<rect x="136" y="500" width="1" height="2"/>
<rect x="141" y="488" width="1" height="2"/>
<rect x="141" y="500" width="1" height="2"/>
<rect x="146" y="488" width="1" height="2"/>
<rect x="146" y="500" width="1" height="2"/>
<rect x="151" y="488" width="1" height="2"/>
<rect x="151" y="500" width="1" height="2"/>
<rect x="156" y="488" width="1" height="2"/>
<rect x="156" y="500" width="1" height="2"/>
<rect x="161" y="488" width="1" height="2"/>
<rect x="161" y="500" width="1" height="2"/>
<rect x="166" y="488" width="1" height="2"/>
<rect x="166" y="500" width="1" height="2"/>
<rect x="171" y="488" width="1" height="2"/>
<rect x="171" y="500" width="1" height="2"/>
<rect x="176" y="488" width="1" height="2"/>
<rect x="176" y="500" width="1" height="2"/>
<rect x="181" y="488" width="1" height="2"/>
<rect x="181" y="500" width="1" height="2"/>
<rect x="186" y="488" width="1" height="2"/>
<rect x="186" y="500" width="1" height="2"/>
<rect x="191" y="488" width="1" height="2"/>
<rect x="191" y="500" width="1" height="2"/>
<rect x="196" y="488" width="1" height="2"/>
<rect x="196" y="500" width="1" height="2"/>
<rect x="201" y="488" width="1" height="2"/>
<rect x="201" y="500" width="1" height="2"/>
<rect x="206" y="488" width="1" height="2"/>
<rect x="206" y="500" width="1" height="2"/>
<rect x="211" y="488" width="1" height="2"/>
<rect x="211" y="500" width="1" height="2"/>
<rect x="216" y="488" width="1" height="2"/>
<rect x="216" y="500" width="1" height="2"/>
<rect x="221" y="488" width="1" height="2"/>
<rect x="221" y="500" width="1" height="2"/>
<rect x="226" y="488" width="1" height="2"/>
<rect x="226" y="500" width="1" height="2"/>
<rect x="231" y="488" width="1" height="2"/>
<rect x="231" y="500" width="1" height="2"/>
<rect x="236" y="488" width="1" height="2"/>
<rect x="236" y="500" width="1" height="2"/>
<rect x="241" y="488" width="1" height="2"/>
<rect x="241" y="500" width="1" height="2"/>
<rect x="246" y="488" width="1" height="2"/>
<rect x="246" y="500" width="1" height="2"/>
<rect x="251" y="488" width="1" height="2"/>
<rect x="251" y="500" width="1" height="2"/>
<rect x="256" y="488" width="1" height="2"/>
<rect x="256" y="500" width="1" height="2"/>
<rect x="261" y="488" width="1" height="2"/>
<rect x="261" y="500" width="1" height="2"/>
<rect x="266" y="488" width="1" height="2"/>
<rect x="266" y="500" width="1" height="2"/>
<rect x="271" y="488" width="1" height="2"/>
<rect x="271" y="500" width="1" height="2"/>
<rect x="276" y="488" width="1" height="2"/>
<rect x="276" y="500" width="1" height="2"/>
<rect x="281" y="488" width="1" height="2"/>
<rect x="281" y="500" width="1" height="2"/>
<rect x="286" y="488" width="1" height="2"/>
<rect x="286" y="500" width="1" height="2"/>
<rect x="291" y="488" width="1" height="2"/>
<rect x="291" y="500" width="1" height="2"/>
<rect x="296" y="488" width="1" height="2"/>
<rect x="296" y="500" width="1" height="2"/>
<rect x="301" y="488" width="1" height="2"/>
<rect x="301" y="500" width="1" height="2"/>
<rect x="306" y="488" width="1" height="2"/>
<rect x="306" y="500" width="1" height="2"/>
<rect x="311" y="488" width="1" height="2"/>
<rect x="311" y="500" width="1" height="2"/>
<rect x="316" y="488" width="1" height="2"/>
<rect x="316" y="500" width="1" height="2"/>
<rect x="321" y="488" width="1" height="2"/>
<rect x="321" y="500" width="1" height="2"/>
<rect x="326" y="488" width="1" height="2"/>
<rect x="326" y="500" width="1" height="2"/>
<rect x="331" y="488" width="1" height="2"/>
<rect x="331" y="500" width="1" height="2"/>
<rect x="336" y="488" width="1" height="2"/>
<rect x="336" y="500" width="1" height="2"/>
<rect x="341" y="488" width="1" height="2"/>
<rect x="341" y="500" width="1" height="2"/>
<rect x="346" y="488" width="1" height="2"/>
<rect x="346" y="500" width="1" height="2"/>
<rect x="351" y="488" width="1" height="2"/>
<rect x="351" y="500" width="1" height="2"/>
<rect x="356" y="488" width="1" height="2"/>
<rect x="356" y="500" width="1" height="2"/>
<rect x="361" y="488" width="1" height="2"/>
<rect x="361" y="500" width="1" height="2"/>
<rect x="366" y="488" width="1" height="2"/>
<rect x="366" y="500" width="1" height="2"/>
<rect x="371" y="488" width="1" height="2"/>
<rect x="371" y="500" width="1" height="2"/>
<rect x="376" y="488" width="1" height="2"/>
<rect x="376" y="500" width="1" height="2"/>
<rect x="381" y="488" width="1" height="2"/>
<rect x="381" y="500" width="1" height="2"/>
<rect x="386" y="488" width="1" height="2"/>
<rect x="386" y="500" width="1" height="2"/>
<rect x="391" y="488" width="1" height="2"/>
<rect x="391" y="500" width="1" height="2"/>
<rect x="396" y="488" width="1" height="2"/>
<rect x="396" y="500" width="1" height="2"/>
<rect x="401" y="488" width="1" height="2"/>
<rect x="401" y="500" width="1" height="2"/>
<rect x="406" y="488" width="1" height="2"/>
<rect x="406" y="500" width="1" height="2"/>
<rect x="411" y="488" width="1" height="2"/>
<rect x="411" y="500" width="1" height="2"/>
<rect x="416" y="488" width="1" height="2"/>
<rect x="416" y="500" width="1" height="2"/>
<rect x="421" y="488" width="1" height="2"/>
<rect x="421" y="500" width="1" height="2"/>
<rect x="426" y="488" width="1" height="2"/>
<rect x="426" y="500" width="1" height="2"/>
<rect x="431" y="488" width="1" height="2"/>
<rect x="431" y="500" width="1" height="2"/>
<rect x="436" y="488" width="1" height="2"/>
<rect x="436" y="500" width="1" height="2"/>
<rect x="441" y="488" width="1" height="2"/>
<rect x="441" y="500" width="1" height="2"/>
<rect x="446" y="488" width="1" height="2"/>
<rect x="446" y="500" width="1" height="2"/>
<rect x="451" y="488" width="1" height="2"/>
<rect x="451" y="500" width="1" height="2"/>
<rect x="456" y="488" width="1" height="2"/>
<rect x="456" y="500" width="1" height="2"/>
<rect x="461" y="488" width="1" height="2"/>
<rect x="461" y="500" width="1" height="2"/>
<rect x="466" y="488" width="1" height="2"/>
<rect x="466" y="500" width="1" height="2"/>
<rect x="471" y="488" width="1" height="2"/>
<rect x="471" y="500" width="1" height="2"/>
<rect x="476" y="488" width="1" height="2"/>
<rect x="476" y="500" width="1" height="2"/>
<rect x="481" y="488" width="1" height="2"/>
<rect x="481" y="500" width="1" height="2"/>
<rect x="486" y="488" width="1" height="2"/>
<rect x="486" y="500" width="1" height="2"/>
<rect x="491" y="488" width="1" height="2"/>
<rect x="491" y="500" width="1" height="2"/>
<rect x="496" y="488" width="1" height="2"/>
<rect x="496" y="500" width="1" height="2"/>
<rect x="501" y="488" width="1" height="2"/>
<rect x="501" y="500" width="1" height="2"/>
<rect x="506" y="488" width="1" height="2"/>
<rect x="506" y="500" width="1" height="2"/>
<rect x="511" y="488" width="1" height="2"/>
<rect x="511" y="500" width="1" height="2"/>
<rect x="516" y="488" width="1" height="2"/>
<rect x="516" y="500" width="1" height="2"/>
<rect x="521" y="488" width="1" height="2"/>
<rect x="521" y="500" width="1" height="2"/>
<rect x="526" y="488" width="1" height="2"/>
<rect x="526" y="500" width="1" height="2"/>
<rect x="531" y="488" width="1" height="2"/>
<rect x="531" y="500" width="1" height="2"/>
<rect x="536" y="488" width="1" height="2"/>
<rect x="536" y="500" width="1" height="2"/>
<rect x="541" y="488" width="1" height="2"/>
<rect x="541" y="500" width="1" height="2"/>
<rect x="546" y="488" width="1" height="2"/>
<rect x="546" y="500" width="1" height="2"/>
<rect x="551" y="488" width="1" height="2"/>
<rect x="551" y="500" width="1" height="2"/>
<rect x="556" y="488" width="1" height="2"/>
<rect x="556" y="500" width="1" height="2"/>
<rect x="561" y="488" width="1" height="2"/>
<rect x="561" y="500" width="1" height="2"/>
<rect x="31" y="488" width="1" height="3"/>
<rect x="56" y="488" width="1" height="3"/>
<rect x="81" y="488" width="1" height="3"/>
<rect x="106" y="488" width="1" height="3"/>
<rect x="126" y="488" width="1" height="3"/>
<rect x="151" y="488" width="1" height="3"/>
<rect x="176" y="488" width="1" height="3"/>
<rect x="201" y="488" width="1" height="3"/>
<rect x="226" y="488" width="1" height="3"/>
<rect x="251" y="488" width="1" height="3"/>
<rect x="296" y="488" width="1" height="3"/>
<rect x="321" y="488" width="1" height="3"/>
<rect x="346" y="488" width="1" height="3"/>
<rect x="371" y="488" width="1" height="3"/>
<rect x="391" y="488" width="1" height="3"/>
<rect x="416" y="488" width="1" height="3"/>
<rect x="441" y="488" width="1" height="3"/>
<rect x="466" y="488" width="1" height="3"/>
<rect x="491" y="488" width="1" height="3"/>
<rect x="516" y="488" width="1" height="3"/>
<rect x="541" y="488" width="1" height="3"/>
<rect x="61" y="488" width="1" height="3"/>
<rect x="166" y="488" width="1" height="3"/>
<rect x="271" y="488" width="1" height="3"/>
<rect x="376" y="488" width="1" height="3"/>
<rect x="486" y="488" width="1" height="3"/>
<rect x="5" y="502" width="564" height="1"/>
</g>
<text x="6.2" y="498.6" font-size="9.7" text-anchor="middle" textLength="10.799999999999999" lengthAdjust="spacingAndGlyphs">17</text>
<text x="31.3" y="498.6" font-size="9.7" text-anchor="middle" textLength="11.6" lengthAdjust="spacingAndGlyphs">24</text>
<text x="62" y="498.5" font-size="10" text-anchor="middle" font-weight="bold" textLength="18.9" lengthAdjust="spacingAndGlyphs">Apr</text>
<text x="81.3" y="498.6" font-size="9.7" text-anchor="middle" textLength="5.2" lengthAdjust="spacingAndGlyphs">7</text>
<text x="106.3" y="498.6" font-size="9.7" text-anchor="middle" textLength="10.799999999999999" lengthAdjust="spacingAndGlyphs">14</text>
<text x="126.3" y="498.6" font-size="9.7" text-anchor="middle" textLength="11.6" lengthAdjust="spacingAndGlyphs">21</text>
<text x="167" y="498.5" font-size="10" text-anchor="middle" font-weight="bold" textLength="20.7" lengthAdjust="spacingAndGlyphs">May</text>
<text x="201.3" y="498.6" font-size="9.7" text-anchor="middle" textLength="10.799999999999999" lengthAdjust="spacingAndGlyphs">12</text>
<text x="226.3" y="498.6" font-size="9.7" text-anchor="middle" textLength="10.799999999999999" lengthAdjust="spacingAndGlyphs">19</text>
<text x="251.3" y="498.6" font-size="9.7" text-anchor="middle" textLength="11.6" lengthAdjust="spacingAndGlyphs">27</text>
<text x="272" y="498.5" font-size="10" text-anchor="middle" font-weight="bold" textLength="18.4" lengthAdjust="spacingAndGlyphs">Jun</text>
<text x="296.3" y="498.6" font-size="9.7" text-anchor="middle" textLength="5.2" lengthAdjust="spacingAndGlyphs">9</text>
<text x="321.3" y="498.6" font-size="9.7" text-anchor="middle" textLength="10.799999999999999" lengthAdjust="spacingAndGlyphs">16</text>
<text x="346.3" y="498.6" font-size="9.7" text-anchor="middle" textLength="11.6" lengthAdjust="spacingAndGlyphs">23</text>
<text x="377" y="498.5" font-size="10" text-anchor="middle" font-weight="bold" textLength="15.3" lengthAdjust="spacingAndGlyphs">Jul</text>
<text x="391.3" y="498.6" font-size="9.7" text-anchor="middle" textLength="5.2" lengthAdjust="spacingAndGlyphs">7</text>
<text x="416.3" y="498.6" font-size="9.7" text-anchor="middle" textLength="10.799999999999999" lengthAdjust="spacingAndGlyphs">14</text>
<text x="441.3" y="498.6" font-size="9.7" text-anchor="middle" textLength="11.6" lengthAdjust="spacingAndGlyphs">21</text>
<text x="466.3" y="498.6" font-size="9.7" text-anchor="middle" textLength="11.6" lengthAdjust="spacingAndGlyphs">28</text>
<text x="487" y="498.5" font-size="10" text-anchor="middle" font-weight="bold" textLength="21.6" lengthAdjust="spacingAndGlyphs">Aug</text>
<text x="516.3" y="498.6" font-size="9.7" text-anchor="middle" textLength="10.799999999999999" lengthAdjust="spacingAndGlyphs">11</text>
<text x="541.3" y="498.6" font-size="9.7" text-anchor="middle" textLength="10.799999999999999" lengthAdjust="spacingAndGlyphs">18</text>
<text x="5.3" y="13.6" font-size="14" font-weight="bold" textLength="28.5" lengthAdjust="spacingAndGlyphs">$VIX</text>
<text x="38" y="13.6" font-size="10.7" textLength="164.6" lengthAdjust="spacingAndGlyphs">Volatility Index - New Methodology</text>
<text x="208.6" y="13.6" font-size="9.5" textLength="23" lengthAdjust="spacingAndGlyphs">INDX</text>
<text x="5" y="26" font-size="10" textLength="60.7" lengthAdjust="spacingAndGlyphs">22-Aug-2014</text>
<text x="479.6" y="12.4" font-size="10.5" fill="#444" stroke="#444" stroke-width=".25" textLength="89" lengthAdjust="spacingAndGlyphs">© StockCharts.com</text>
<text x="214.1" y="25.4" font-size="10.5" font-weight="bold" textLength="27.7" lengthAdjust="spacingAndGlyphs">Open</text>
<text x="246.2" y="25.4" font-size="10.5" textLength="26.2" lengthAdjust="spacingAndGlyphs">11.88</text>
<text x="279.3" y="25.4" font-size="10.5" font-weight="bold" textLength="22.8" lengthAdjust="spacingAndGlyphs">High</text>
<text x="307" y="25.4" font-size="10.5" textLength="25.0" lengthAdjust="spacingAndGlyphs">12.48</text>
<text x="338.6" y="25.4" font-size="10.5" font-weight="bold" textLength="19.5" lengthAdjust="spacingAndGlyphs">Low</text>
<text x="365.8" y="25.4" font-size="10.5" textLength="26.5" lengthAdjust="spacingAndGlyphs">11.47</text>
<text x="399.1" y="25.4" font-size="10.5" font-weight="bold" textLength="30.6" lengthAdjust="spacingAndGlyphs">Close</text>
<text x="434.6" y="25.4" font-size="10.5" textLength="24.8" lengthAdjust="spacingAndGlyphs">11.47</text>
<text x="467.2" y="25.4" font-size="10.5" font-weight="bold" textLength="20.5" lengthAdjust="spacingAndGlyphs">Chg</text>
<text x="492" y="25.4" font-size="10.5" textLength="65.8" lengthAdjust="spacingAndGlyphs">-0.29 (-2.47%)</text>
<path d="M561,20.5 L568.5,20.5 L564.75,24.6 Z" fill="#990033"/>
</svg></body></html>
